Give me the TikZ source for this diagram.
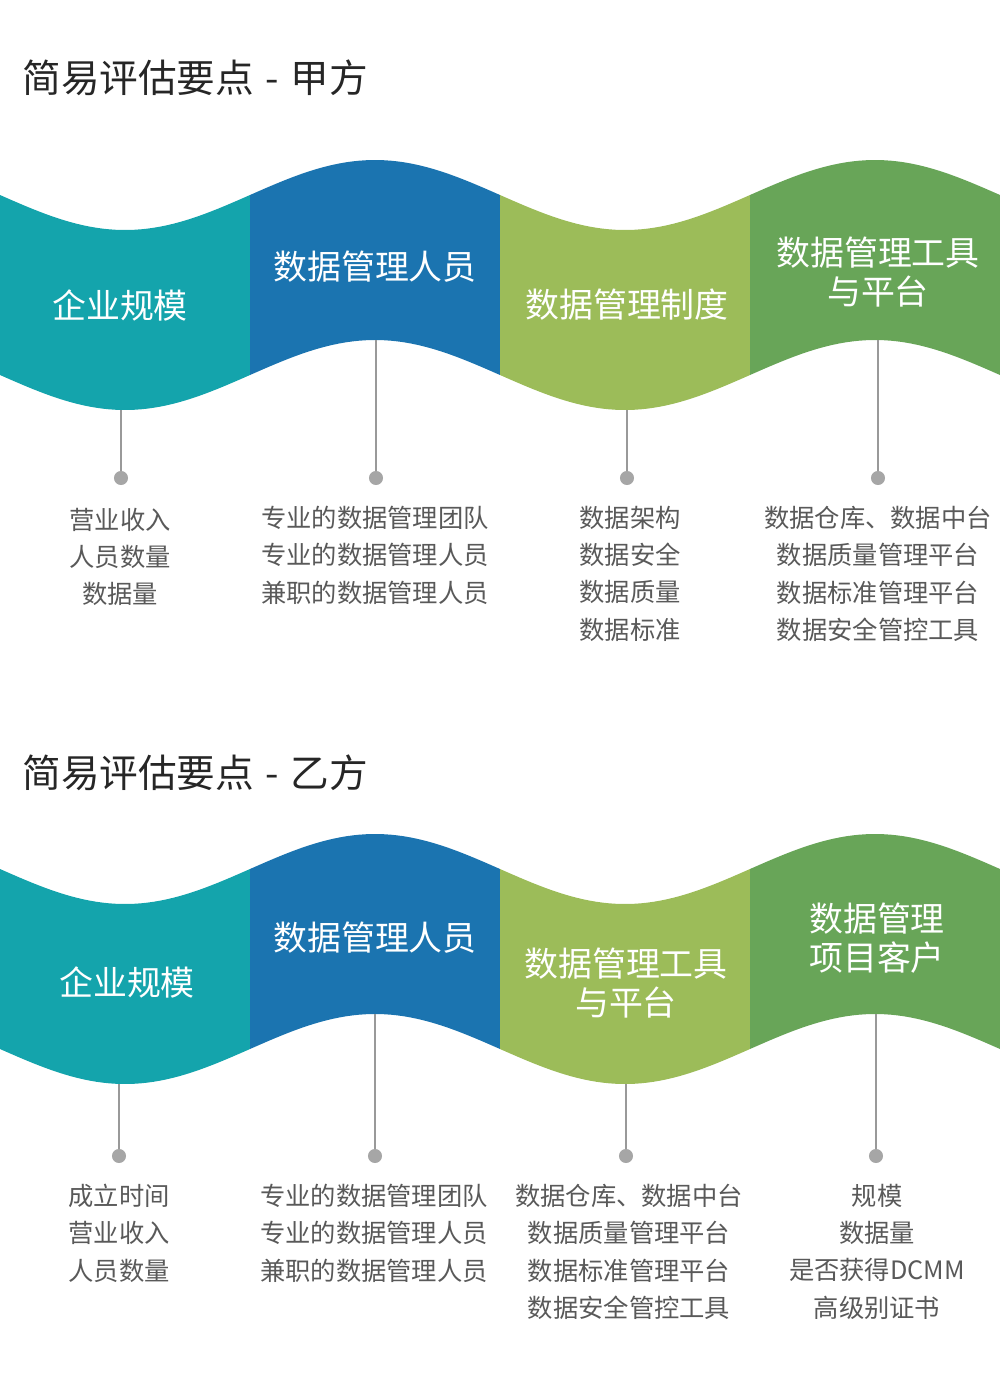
\documentclass[tikz,border=0pt]{standalone}
\usepackage{fontspec}
\setmainfont{Noto Sans CJK SC}
\usetikzlibrary{positioning}
\definecolor{cTeal}{HTML}{14A4AC}
\definecolor{cBlue}{HTML}{1B74B0}
\definecolor{cLime}{HTML}{9CBC59}
\definecolor{cGreen}{HTML}{68A558}
\definecolor{cText}{HTML}{595959}
\tikzset{
  title/.style={anchor=west, inner sep=0pt, font=\fontsize{22}{24}\selectfont, text=black!85},
  band/.style={align=center, text=white, font=\fontsize{19.3}{22.5}\selectfont},
  items/.style={anchor=north, align=center, text=cText, font=\fontsize{14.4}{21.2}\selectfont},
  dot/.style={circle, fill=black!35, inner sep=0pt, minimum size=8pt},
  stem/.style={black!40, line width=1pt}
}
% one piece of the wave: start x, vertical offset, colour
\newcommand{\wavepiece}[3]{%
  \fill[#3] plot[domain=#1:#1+250, samples=40] (\x,{#2+195+35*cos(0.72*(\x-125))})
    -- plot[domain=#1+250:#1, samples=40] (\x,{#2+375+35*cos(0.72*(\x-125))}) -- cycle;}
\begin{document}
\begin{tikzpicture}[x=0.02cm, y=-0.02cm]
\useasboundingbox (0,0) rectangle (1000,1384);

%% first band
\node[title] (t1) at (22,78) {简易评估要点\hspace{0.3em}-\hspace{0.3em}甲方};
\wavepiece{0}{0}{cTeal}
\wavepiece{250}{0}{cBlue}
\wavepiece{500}{0}{cLime}
\wavepiece{750}{0}{cGreen}
\node[band] (a1) at (120,305) {企业规模};
\node[band] (a2) at (375,267) {数据管理人员};
\node[band] (a3) at (627,305) {数据管理制度};
\node[band] (a4) at (878,272) {数据管理工具\\与平台};

\coordinate (s1) at (121,410);
\coordinate (s2) at (376,340);
\coordinate (s3) at (627,410);
\coordinate (s4) at (878,340);
\foreach \i/\x in {1/121,2/376,3/627,4/878}{
  \node[dot] (d\i) at (\x,478) {};
  \draw[stem] (s\i) -- (d\i);
}
\node[items] (l1) at (120,502) {营业收入\\人员数量\\数据量};
\node[items] (l2) at (375,500) {专业的数据管理团队\\专业的数据管理人员\\兼职的数据管理人员};
\node[items] (l3) at (630,500) {数据架构\\数据安全\\数据质量\\数据标准};
\node[items] (l4) at (878,500) {数据仓库、数据中台\\数据质量管理平台\\数据标准管理平台\\数据安全管控工具};

%% second band
\node[title] (t2) at (22,773) {简易评估要点\hspace{0.3em}-\hspace{0.3em}乙方};
\wavepiece{0}{674}{cTeal}
\wavepiece{250}{674}{cBlue}
\wavepiece{500}{674}{cLime}
\wavepiece{750}{674}{cGreen}
\node[band] (b1) at (127,982) {企业规模};
\node[band] (b2) at (375,938) {数据管理人员};
\node[band] (b3) at (626,983) {数据管理工具\\与平台};
\node[band] (b4) at (877,938) {数据管理\\项目客户};

\coordinate (u1) at (119,1084);
\coordinate (u2) at (375,1014);
\coordinate (u3) at (626,1084);
\coordinate (u4) at (876,1014);
\foreach \i/\x in {1/119,2/375,3/626,4/876}{
  \node[dot] (e\i) at (\x,1156) {};
  \draw[stem] (u\i) -- (e\i);
}
\node[items] (m1) at (119,1178) {成立时间\\营业收入\\人员数量};
\node[items] (m2) at (374,1178) {专业的数据管理团队\\专业的数据管理人员\\兼职的数据管理人员};
\node[items] (m3) at (629,1178) {数据仓库、数据中台\\数据质量管理平台\\数据标准管理平台\\数据安全管控工具};
\node[items] (m4) at (877,1178) {规模\\数据量\\是否获得DCMM\\高级别证书};
\end{tikzpicture}
\end{document}
